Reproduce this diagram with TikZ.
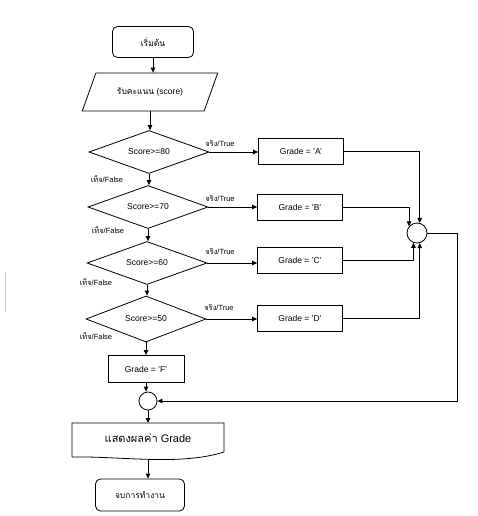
\documentclass[tikz,border=0pt]{standalone}
\usepackage{fontspec}
\setmainfont{Liberation Sans}
\newfontfamily\thai[Script=Thai]{Loma}
\usetikzlibrary{shapes.geometric,arrows.meta}
\begin{document}
\begin{tikzpicture}[x=1pt,y=-1pt,
  every node/.style={font=\fontsize{8.5}{10}\selectfont, inner sep=1pt},
  base/.style={draw, line width=0.8pt},
  term/.style={base, rounded corners=5pt, minimum height=31pt},
  io/.style={base, trapezium, trapezium left angle=51, trapezium right angle=129,
             trapezium stretches=true, minimum width=136pt, minimum height=38pt},
  dec/.style={base, diamond, aspect=3, inner sep=0pt, minimum width=120pt, minimum height=43pt},
  proc/.style={base, minimum width=85pt, minimum height=26pt},
  junc/.style={base, circle, inner sep=0pt},
  lbl/.style={font=\fontsize{7.5}{9}\selectfont},
  arr/.style={line width=0.8pt, -{Triangle[length=5pt,width=4.5pt]}},
  ln/.style={line width=0.8pt}
]
\useasboundingbox (0,0) rectangle (477,516);
% faint artefact line at left edge
\draw[gray!35, line width=0.6pt] (5,272) -- (5,312);

\node[term, minimum width=81pt] (start) at (153,42) {\thai เริ่มต้น};
\node[io] (in) at (150,92) {{\thai รับคะแนน} (score)};

\node[dec] (d1) at (149,152) {Score>=80};
\node[dec] (d2) at (148,207) {Score>=70};
\node[dec] (d3) at (147,263) {Score>=60};
\node[dec, minimum height=46pt] (d4) at (146,319) {Score>=50};

\node[proc] (a) at (301,151) {Grade = 'A'};
\node[proc] (b) at (300,207) {Grade = 'B'};
\node[proc] (c) at (300,260) {Grade = 'C'};
\node[proc] (d) at (300,318) {Grade = 'D'};
\node[proc, minimum width=76pt, minimum height=27pt] (f) at (146,369) {Grade = 'F'};

\node[junc, minimum size=20pt] (m) at (417,233) {};
\node[junc, minimum size=18pt] (j) at (148,401) {};

% document shape
\node[font=\fontsize{11}{13}\selectfont] (doc) at (148,438) {{\thai แสดงผลค่า} Grade};
\coordinate (doctop) at (148,423);
\coordinate (docbot) at (148,459.5);
\draw[ln] (72,457) -- (72,423) -- (224,423) -- (224,452)
  .. controls (180,466) and (120,456) .. (72,457);

\node[term, minimum width=89pt, minimum height=32pt] (end) at (140,495) {\thai จบการทำงาน};

% labels
\node[lbl] (t1) at (220,144) {{\thai จริง}/True};
\node[lbl] (t2) at (220,199) {{\thai จริง}/True};
\node[lbl] (t3) at (220,252) {{\thai จริง}/True};
\node[lbl] (t4) at (219,308) {{\thai จริง}/True};
\node[lbl] (f1) at (107,179) {{\thai เท็จ}/False};
\node[lbl] (f2) at (108,230) {{\thai เท็จ}/False};
\node[lbl] (f3) at (96,282) {{\thai เท็จ}/False};
\node[lbl] (f4) at (96,336) {{\thai เท็จ}/False};

% main column
\draw[arr] (start.south) -- (start.south |- in.north);
\draw[arr] (in.south) -- (in.south |- d1.north);
\draw[arr] (d1.south) -- (d1.south |- d2.north);
\draw[arr] (d2.south) -- (d2.south |- d3.north);
\draw[arr] (d3.south) -- (d3.south |- d4.north);
\draw[arr] (d4.south) -- (d4.south |- f.north);
\draw[arr] (f.south) -- (f.south |- j.north);
\draw[arr] (j.south) -- (doctop);
\draw[arr] (docbot) -- (docbot |- end.north);

% true branches
\draw[arr] (d1.east) -- (d1.east -| a.west);
\draw[arr] (d2.east) -- (d2.east -| b.west);
\draw[arr] (d3.east) -- (d3.east -| c.west);
\draw[arr] (d4.east) -- (d4.east -| d.west);

% merge
\draw[arr] (a.east) -| (m.75);
\draw[arr] (b.east) -| (m.140);
\draw[arr] (c.east) -| (m.250);
\draw[arr] (d.east) -| (m.-75);
\coordinate (rt) at (457,233);
\draw[arr] (m.east) -- (rt) |- (j.east);
\end{tikzpicture}
\end{document}
